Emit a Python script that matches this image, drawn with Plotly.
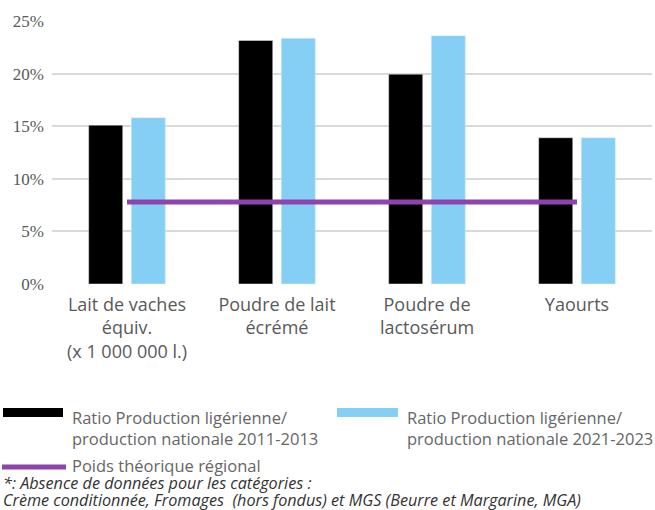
import plotly.graph_objects as go

categories = ["Lait de vaches<br>équiv.<br>(x 1 000 000 l.)", "Poudre de lait<br>écrémé",
              "Poudre de<br>lactosérum", "Yaourts"]
series_2011 = [15.1, 23.15, 19.95, 13.9]
series_2021 = [15.8, 23.35, 23.6, 13.9]
poids_regional = [7.8, 7.8, 7.8, 7.8]
y_ticks = [0, 5, 10, 15, 20, 25]
y_ticktext = ["0%", "5%", "10%", "15%", "20%", "25%"]
legend_labels = ["Ratio Production ligérienne/<br>production nationale 2011-2013",
                 "Ratio Production ligérienne/<br>production nationale 2021-2023",
                 "Poids théorique régional"]
footnote_lines = ["*: Absence de données pour les catégories :",
                  "Crème conditionnée, Fromages  (hors fondus) et MGS (Beurre et Margarine, MGA)"]

BLACK = "#000000"
BLUE = "#84CFF3"
PURPLE = "#8E44AD"
TXT = "#666666"
W, H = 655, 510
ML, MR, MT, MB = 52, 3, 21, 226
PW, PH = W - ML - MR, H - MT - MB

def px(x):
    return (x - ML) / PW

def py(y):
    return (H - MB - y) / PH

fig = go.Figure()
fig.add_trace(go.Bar(x=categories, y=series_2011, marker_color=BLACK, name=legend_labels[0]))
fig.add_trace(go.Bar(x=categories, y=series_2021, marker_color=BLUE, name=legend_labels[1]))
fig.add_trace(go.Scatter(x=categories, y=poids_regional, mode="lines",
                         line=dict(color=PURPLE, width=5), name=legend_labels[2]))

shapes = [
    dict(type="rect", xref="paper", yref="paper", x0=px(3), x1=px(63), y0=py(417), y1=py(408),
         fillcolor=BLACK, line=dict(width=0)),
    dict(type="rect", xref="paper", yref="paper", x0=px(337), x1=px(398), y0=py(417), y1=py(408),
         fillcolor=BLUE, line=dict(width=0)),
    dict(type="line", xref="paper", yref="paper", x0=px(2), x1=px(66), y0=py(467), y1=py(467),
         line=dict(color=PURPLE, width=5)),
]
LEG_FONT = dict(family="Open Sans", size=16.5, color=TXT)
annotations = [
    dict(text=legend_labels[0], xref="paper", yref="paper", x=px(70), y=py(404), xanchor="left",
         yanchor="top", showarrow=False, align="left", font=LEG_FONT),
    dict(text=legend_labels[1], xref="paper", yref="paper", x=px(405), y=py(404), xanchor="left",
         yanchor="top", showarrow=False, align="left", font=LEG_FONT),
    dict(text=legend_labels[2], xref="paper", yref="paper", x=px(70), y=py(465), xanchor="left",
         yanchor="middle", showarrow=False, align="left", font=LEG_FONT),
]
for i, line in enumerate(footnote_lines):
    annotations.append(dict(text="<i>" + line + "</i>", xref="paper", yref="paper",
                            x=px(1), y=py(483 + 17 * i), xanchor="left", yanchor="middle",
                            showarrow=False, align="left",
                            font=dict(family="Open Sans", size=16.2, color="#333333")))

fig.update_layout(
    width=W, height=H, margin=dict(l=ML, r=MR, t=MT, b=MB),
    paper_bgcolor="white", plot_bgcolor="white",
    barmode="group", bargap=0.432, bargroupgap=0.2,
    showlegend=False, shapes=shapes, annotations=annotations,
    xaxis=dict(showgrid=False, showline=False, zeroline=False, ticks="",
               tickfont=dict(family="Open Sans", size=18, color="#595959"), tickangle=0,
               ticklabelstandoff=8),
    yaxis=dict(range=[0, 25], tickvals=y_ticks, ticktext=y_ticktext, showgrid=True,
               gridcolor="#D9D9D9", gridwidth=2, zeroline=False, showline=False,
               tickfont=dict(family="Liberation Serif", size=17, color="#595959"),
               ticklabelstandoff=7),
)
fig.write_html("out.html", config={"displayModeBar": False},
               post_script="document.body.style.margin='0';")
